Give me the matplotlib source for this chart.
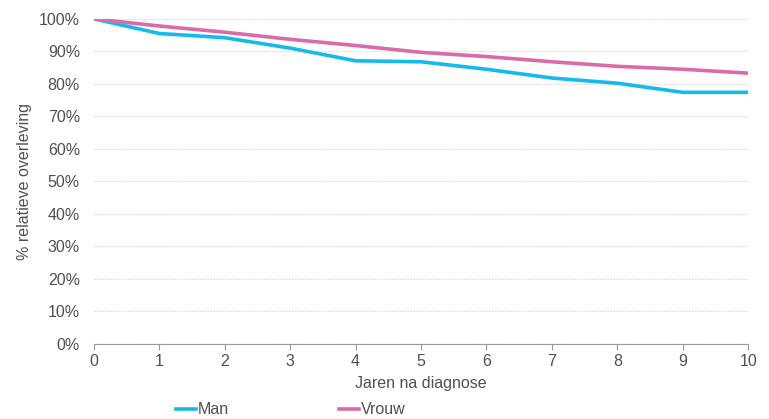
import matplotlib
matplotlib.use("Agg")
import matplotlib.pyplot as plt
from matplotlib.ticker import FuncFormatter

plt.rcParams["font.family"] = ["Liberation Sans", "DejaVu Sans"]

years = [0, 1, 2, 3, 4, 5, 6, 7, 8, 9, 10]
man = [100, 95.5, 94.2, 91.0, 87.1, 86.8, 84.5, 81.8, 80.2, 77.4, 77.4]
vrouw = [100, 97.8, 95.9, 93.7, 91.8, 89.7, 88.4, 86.8, 85.4, 84.5, 83.3]

fig = plt.figure(figsize=(7.69, 4.19), dpi=100)
ax = fig.add_axes([0.122, 0.179, 0.851, 0.776])

ax.plot(years, man, color="#16B9EC", lw=2.6, label="Man", solid_joinstyle="round")
ax.plot(years, vrouw, color="#D96BAA", lw=2.6, label="Vrouw", solid_joinstyle="round")

ax.set_xlim(0, 10)
ax.set_ylim(0, 100)
ax.set_xticks(years)
ax.set_yticks(range(0, 101, 10))
ax.yaxis.set_major_formatter(FuncFormatter(lambda v, p: f"{int(v)}%"))
ax.grid(axis="y", color="#d0d0d0", linestyle=(0, (1, 1.5)), lw=0.8)
ax.set_axisbelow(True)

for s in ["top", "right", "left"]:
    ax.spines[s].set_visible(False)
ax.spines["bottom"].set_color("#9a9a9a")
txt = "#505050"
ax.tick_params(axis="x", colors="#9a9a9a", length=4, labelcolor=txt, labelsize=11.5)
ax.tick_params(axis="y", length=0, labelcolor=txt, labelsize=11.5, pad=10)

ax.set_xlabel("Jaren na diagnose", fontsize=11.5, color=txt, labelpad=5)
ax.set_ylabel("% relatieve overleving", fontsize=11.5, color=txt, labelpad=5)

fig.legend(loc="lower center", bbox_to_anchor=(0.378, -0.03), ncol=2, frameon=False,
           fontsize=11.5, handlelength=1.25, handletextpad=0.1, columnspacing=6.9,
           labelcolor=txt)

fig.savefig("out.png", dpi=100)
